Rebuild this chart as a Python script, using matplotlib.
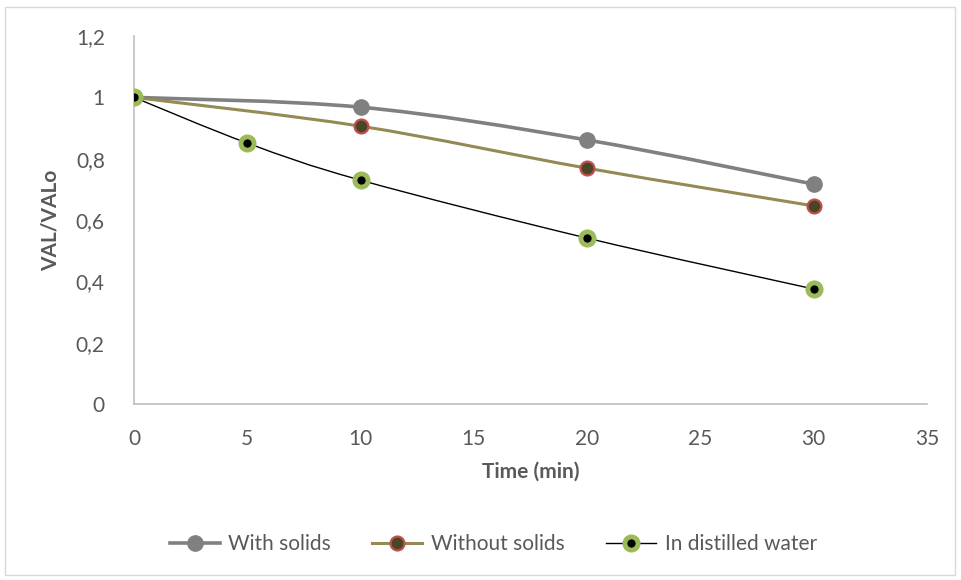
import matplotlib
matplotlib.use("Agg")
import matplotlib.pyplot as plt
from matplotlib.path import Path
from matplotlib.patches import PathPatch, Rectangle
import numpy as np

plt.rcParams['font.family'] = ['Lato', 'DejaVu Sans']

# data
t_solids = [0, 10, 20, 30]
with_solids = [1.0, 0.968, 0.861, 0.717]
without_solids = [1.0, 0.906, 0.769, 0.646]
t_water = [0, 5, 10, 20, 30]
distilled = [1.0, 0.851, 0.730, 0.541, 0.375]

x_ticks = [0, 5, 10, 15, 20, 25, 30, 35]
y_ticks = [0, 0.2, 0.4, 0.6, 0.8, 1.0, 1.2]
y_labels = ["0", "0,2", "0,4", "0,6", "0,8", "1", "1,2"]

TEXT = "#595959"


def smooth_path(x, y):
    # Excel style smoothed line: cubic bezier through every point
    pts = np.column_stack([x, y]).astype(float)
    n = len(pts)
    verts = [pts[0]]
    codes = [Path.MOVETO]
    for i in range(n - 1):
        p0 = pts[i - 1] if i > 0 else pts[i]
        p1 = pts[i]
        p2 = pts[i + 1]
        p3 = pts[i + 2] if i + 2 < n else pts[i + 1]
        c1 = p1 + (p2 - p0) / 6.0
        c2 = p2 - (p3 - p1) / 6.0
        verts += [c1, c2, p2]
        codes += [Path.CURVE4] * 3
    return Path(verts, codes)


fig = plt.figure(figsize=(9.61, 5.80), dpi=100)
ax = fig.add_axes([0.1394, 0.3034, 0.8252, 0.6345])

series = [
    (t_solids, with_solids, "With solids", "#808080", 2.6,
     dict(marker="o", markersize=11, markerfacecolor="#808080", markeredgecolor="#808080", markeredgewidth=1)),
    (t_solids, without_solids, "Without solids", "#948A54", 2.2,
     dict(marker="o", markersize=10, markerfacecolor="#4A4526", markeredgecolor="#C0504D", markeredgewidth=1.6)),
    (t_water, distilled, "In distilled water", "black", 1.0,
     dict(marker="o", markersize=9.5, markerfacecolor="black", markeredgecolor="#9BBB59", markeredgewidth=3.5)),
]

for x, y, name, col, lw, mk in series:
    ax.add_patch(PathPatch(smooth_path(x, y), facecolor="none", edgecolor=col, lw=lw, zorder=2))
    ax.plot(x, y, linestyle="none", zorder=3, **mk)
    # legend proxy
    ax.plot([], [], color=col, lw=lw, label=name, **mk)

ax.set_xlim(0, 35)
ax.set_ylim(0, 1.2)
ax.set_xticks(x_ticks)
ax.set_yticks(y_ticks)
ax.set_yticklabels(y_labels)
ax.tick_params(length=0, labelsize=15, colors=TEXT)
ax.tick_params(axis="x", pad=18)
ax.tick_params(axis="y", pad=21)

for s in ["top", "right"]:
    ax.spines[s].set_visible(False)
for s in ["left", "bottom"]:
    ax.spines[s].set_color("#BFBFBF")
    ax.spines[s].set_linewidth(1.2)

ax.set_xlabel("Time (min)", fontsize=15, fontweight="bold", color=TEXT, labelpad=9)
ax.set_ylabel("VAL/VALo", fontsize=15, fontweight="bold", color=TEXT, labelpad=11)

ax.legend(loc="center", bbox_to_anchor=(0.453, -0.38), ncol=3, frameon=False,
          fontsize=15, labelcolor=TEXT, handlelength=2.4, handletextpad=0.4, columnspacing=2.0)

fig.patches.append(Rectangle((5 / 961, 1 - 575 / 580), 950 / 961, 568 / 580,
                             transform=fig.transFigure, fill=False, edgecolor="#D9D9D9", lw=1))

fig.savefig("out.png", dpi=100)
